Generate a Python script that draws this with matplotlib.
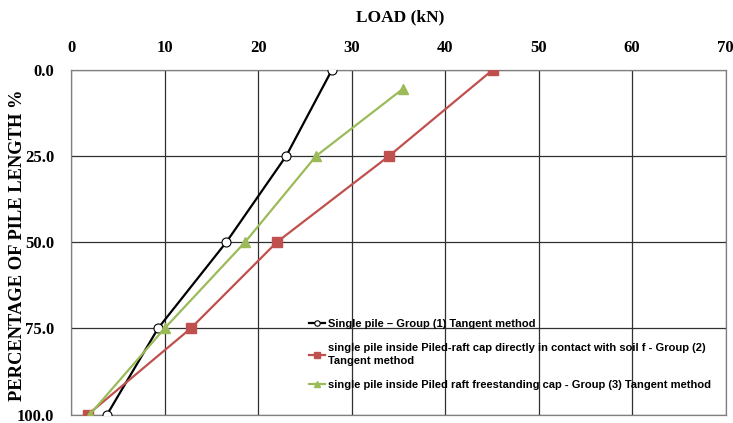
import numpy as np
import matplotlib.pyplot as plt

# data (load in kN vs percentage of pile length)
load_g1 = [27.9, 23.0, 16.6, 9.3, 3.85]
depth_g1 = [0, 25, 50, 75, 100]
load_g2 = [45.1, 34.0, 22.0, 12.8, 1.8]
depth_g2 = [0, 25, 50, 75, 100]
load_g3 = [35.5, 26.2, 18.6, 10.0, 2.0]
depth_g3 = [5.5, 25, 50, 75, 100]

labels = ['Single pile \u2013 Group (1) Tangent method',
          'single pile inside Piled-raft cap directly in contact with soil f - Group (2)\nTangent method',
          'single pile inside Piled raft freestanding cap - Group (3) Tangent method']

xticks = [0, 10, 20, 30, 40, 50, 60, 70]
yticks = [0, 25, 50, 75, 100]

fig = plt.figure(figsize=(7.33, 4.23), dpi=100)
ax = fig.add_axes([0.097, 0.02, 0.893, 0.815])

ax.plot(load_g1, depth_g1, color='black', lw=1.6, marker='o', ms=6.5,
        mfc='white', mec='black', mew=0.8, label=labels[0], zorder=3)
ax.plot(load_g2, depth_g2, color='#c0504d', lw=1.6, marker='s', ms=6.5,
        mfc='#c0504d', mec='#c0504d', label=labels[1], zorder=3)
ax.plot(load_g3, depth_g3, color='#9bbb59', lw=1.6, marker='^', ms=6.5,
        mfc='#9bbb59', mec='#9bbb59', label=labels[2], zorder=3)

ax.set_xlim(0, 70)
ax.set_ylim(100, 0)
ax.set_xticks(xticks)
ax.set_yticks(yticks)
ax.set_yticklabels(['%.1f' % v for v in yticks])
ax.xaxis.tick_top()
ax.tick_params(length=0)
ax.tick_params(axis='x', pad=10)
ax.tick_params(axis='y', pad=12)
for lab in ax.get_xticklabels() + ax.get_yticklabels():
    lab.set_fontfamily('Liberation Serif')
    lab.set_fontweight('bold')
    lab.set_fontsize(12)

ax.grid(True, color='#303030', lw=0.9)
for s in ax.spines.values():
    s.set_color('#808080')
    s.set_linewidth(0.9)

# axis titles placed by hand like the original
fig.text(0.546, 0.96, 'LOAD (kN)', fontfamily='Liberation Serif', fontweight='bold',
         fontsize=12.5, ha='center', va='center')
fig.text(0.024, 0.42, 'PERCENTAGE OF PILE LENGTH %', fontfamily='Liberation Serif',
         fontweight='bold', fontsize=13.3, rotation=90, ha='center', va='center')

leg = fig.legend(loc='upper left', bbox_to_anchor=(0.408, 0.27), frameon=False,
                 prop={'family': 'Liberation Sans', 'weight': 'bold', 'size': 8},
                 handlelength=1.4, handletextpad=0.3, labelspacing=1.25,
                 markerscale=0.6)
for t in leg.get_texts():
    t.set_linespacing(1.45)

plt.savefig('out.png', dpi=100)
